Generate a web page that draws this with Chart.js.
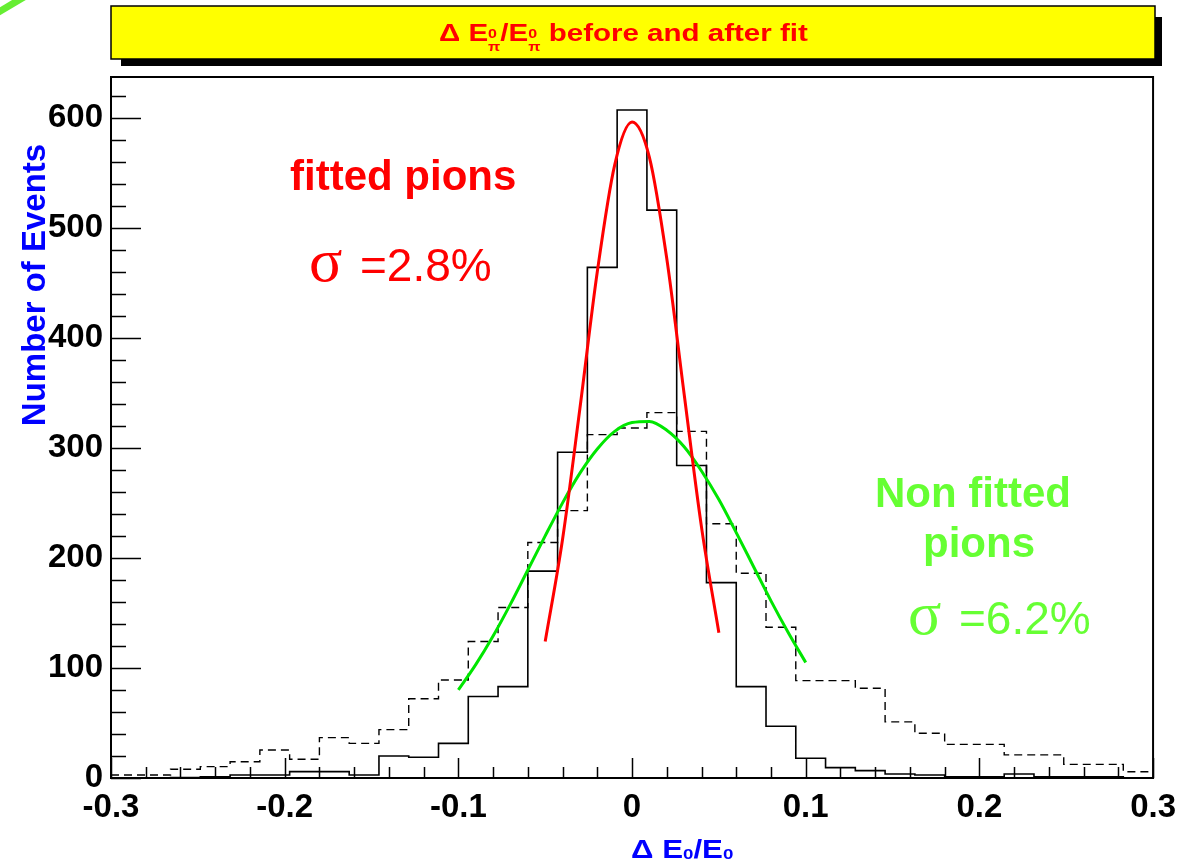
<!DOCTYPE html>
<html>
<head>
<meta charset="utf-8">
<script src="https://cdn.jsdelivr.net/npm/chart.js@4.4.1/dist/chart.umd.min.js"></script>
<style>
  body { margin: 0; background: #fff; }
  #wrap { width: 1186px; height: 861px; position: relative; }
</style>
</head>
<body>
<div id="wrap"><canvas id="chart"></canvas></div>
<script>
// histogram binning (35 bins from -0.3 to 0.3)
const nBins = 35;
const xLow = -0.3;
const xHigh = 0.3;

// solid: after fit
const fittedCounts = [0, 0, 0.5, 1, 2.7, 2.7, 5.8, 5.8, 2.7, 20, 18.8, 31.5, 74, 83,
    188, 296, 464, 607, 516, 284, 177.5, 83, 47, 18, 9.4, 6.7, 3.6, 2.7, 1, 1, 3.6, 1, 1, 1, 0];
// dashed: before fit
const nonFittedCounts = [2.7, 2.7, 8, 10.3, 14.8, 25.5, 17, 36.7, 31.5, 44, 72, 89, 124, 155,
    214, 243, 312, 318, 332, 315, 231, 186, 137, 88.5, 88.5, 81.5, 51, 40.6, 30.6, 30.6, 21, 21, 12.4, 12.4, 5.7];

// gaussian fits
const redFitX = [-0.05, -0.04, -0.03, -0.02, -0.01, 0, 0.01, 0.02, 0.03, 0.04, 0.05];
const redFitY = [124, 217, 336, 460, 557, 596, 564, 472, 349, 228, 132];
const greenFitX = [-0.1, -0.09, -0.08, -0.07, -0.06, -0.05, -0.04, -0.03, -0.02, -0.01, 0,
    0.01, 0.02, 0.03, 0.04, 0.05, 0.06, 0.07, 0.08, 0.09, 0.1];
const greenFitY = [80, 103, 129, 158, 189, 220, 250, 277, 299, 315, 323,
    324, 316, 301, 279, 253, 223, 192, 161, 132, 105];

const xTicks = [-0.3, -0.2, -0.1, 0, 0.1, 0.2, 0.3];
const xTickLabels = ["-0.3", "-0.2", "-0.1", "0", "0.1", "0.2", "0.3"];
const yTicks = [0, 100, 200, 300, 400, 500, 600];
const yMax = 637;

const FONT = "'Liberation Sans', Arial, sans-serif";

function histPoints(counts) {
    const w = (xHigh - xLow) / nBins;
    const pts = counts.map((c, i) => ({ x: xLow + i * w, y: c }));
    pts.push({ x: xHigh, y: counts[counts.length - 1] });
    return pts;
}

function xyPoints(xs, ys) {
    return xs.map((x, i) => ({ x: x, y: ys[i] }));
}

// draw a run of text pieces, stretched horizontally by sx
function drawRich(ctx, pieces, x, y, sx, color) {
    ctx.save();
    ctx.translate(x, y);
    ctx.scale(sx, 1);
    ctx.fillStyle = color;
    ctx.textBaseline = "alphabetic";
    ctx.textAlign = "left";
    let cx = 0;
    pieces.forEach(p => {
        if (p.stack) {
            let w = 0;
            p.stack.forEach(s => {
                ctx.font = s.font;
                ctx.fillText(s.t, cx, s.dy);
                w = Math.max(w, ctx.measureText(s.t).width);
            });
            cx += w;
        } else {
            ctx.font = p.font;
            ctx.fillText(p.t, cx, p.dy || 0);
            cx += ctx.measureText(p.t).width;
        }
    });
    ctx.restore();
}

const decor = {
    id: "decor",
    beforeDraw(chart) {
        const ctx = chart.ctx;
        // green corner mark
        ctx.save();
        ctx.strokeStyle = "#66ee33";
        ctx.lineWidth = 7;
        ctx.beginPath();
        ctx.moveTo(-3, 13);
        ctx.lineTo(24, -3);
        ctx.stroke();

        // title box with shadow
        ctx.fillStyle = "#000";
        ctx.fillRect(121, 17, 1041, 49);
        ctx.fillStyle = "#ffff00";
        ctx.fillRect(111, 6, 1044, 53);
        ctx.strokeStyle = "#000";
        ctx.lineWidth = 1.5;
        ctx.strokeRect(111, 6, 1044, 53);
        ctx.restore();

        const big = "bold 24px " + FONT;
        const sub = "bold 13px " + FONT;
        const piSub = { stack: [{ t: "π", font: sub, dy: 10 }, { t: "0", font: sub, dy: -3 }] };
        drawRich(ctx, [
            { t: "Δ E", font: big }, piSub,
            { t: "/E", font: big }, piSub,
            { t: " before and after fit", font: big }
        ], 439, 41, 1.23, "#ff0000");
    },
    afterDraw(chart) {
        const ctx = chart.ctx;
        const a = chart.chartArea;
        const xs = chart.scales.x, ys = chart.scales.y;
        ctx.save();
        ctx.strokeStyle = "#000";
        ctx.lineWidth = 1.5;
        ctx.beginPath();
        // y ticks (major every 100, minor every 20)
        for (let v = 0; v <= yMax; v += 20) {
            const py = Math.round(ys.getPixelForValue(v)) + 0.5;
            const len = v % 100 === 0 ? 30 : 15;
            ctx.moveTo(a.left, py);
            ctx.lineTo(a.left + len, py);
        }
        // x ticks (major every 0.1, minor every 0.02)
        for (let i = 0; i <= 30; i++) {
            const v = xLow + i * 0.02;
            const px = Math.round(xs.getPixelForValue(v)) + 0.5;
            const len = i % 5 === 0 ? 20 : 11;
            ctx.moveTo(px, a.bottom);
            ctx.lineTo(px, a.bottom - len);
        }
        ctx.stroke();

        // frame
        ctx.lineWidth = 2;
        ctx.strokeRect(a.left, a.top, a.right - a.left, a.bottom - a.top);

        // y axis title
        ctx.save();
        ctx.translate(45, 285);
        ctx.rotate(-Math.PI / 2);
        ctx.fillStyle = "#0000ff";
        ctx.font = "bold 33px " + FONT;
        ctx.textAlign = "center";
        ctx.textBaseline = "alphabetic";
        ctx.fillText("Number of Events", 0, 0);
        ctx.restore();

        // x axis title
        const xb = "bold 25px " + FONT;
        const xsub = "bold 15px " + FONT;
        drawRich(ctx, [
            { t: "Δ E", font: xb }, { t: "0", font: xsub, dy: 1 },
            { t: "/E", font: xb }, { t: "0", font: xsub, dy: 1 }
        ], 631, 858, 1.25, "#0000ff");

        // annotations
        ctx.textAlign = "left";
        ctx.textBaseline = "alphabetic";
        ctx.fillStyle = "#ff0000";
        ctx.font = "bold 42px " + FONT;
        ctx.fillText("fitted pions", 290, 190);
        ctx.font = "62px 'Liberation Serif', serif";
        ctx.fillText("σ", 309, 281);
        ctx.font = "46px " + FONT;
        ctx.fillText("=2.8%", 360, 281);

        ctx.fillStyle = "#66ff33";
        ctx.font = "bold 42px " + FONT;
        ctx.fillText("Non fitted", 875, 507);
        ctx.fillText("pions", 923, 557);
        ctx.font = "62px 'Liberation Serif', serif";
        ctx.fillText("σ", 908, 634);
        ctx.font = "46px " + FONT;
        ctx.fillText("=6.2%", 959, 634);
        ctx.restore();
    }
};

const ctx = document.getElementById("chart");

const chart = new Chart(ctx, {
    type: "line",
    data: {
        datasets: [
            {
                label: "fit fitted",
                data: xyPoints(redFitX, redFitY),
                borderColor: "#ff0000",
                borderWidth: 3,
                pointRadius: 0,
                cubicInterpolationMode: "monotone"
            },
            {
                label: "fit non fitted",
                data: xyPoints(greenFitX, greenFitY),
                borderColor: "#00e600",
                borderWidth: 3,
                pointRadius: 0,
                cubicInterpolationMode: "monotone"
            },
            {
                label: "fitted",
                data: histPoints(fittedCounts),
                borderColor: "#000",
                borderWidth: 1.6,
                pointRadius: 0,
                stepped: "before"
            },
            {
                label: "non fitted",
                data: histPoints(nonFittedCounts),
                borderColor: "#000",
                borderWidth: 1.4,
                borderDash: [8, 5],
                pointRadius: 0,
                stepped: "before"
            }
        ]
    },
    options: {
        responsive: true,
        maintainAspectRatio: false,
        animation: false,
        layout: {
            padding: { top: 77, right: 29, left: 0, bottom: 0 }
        },
        plugins: {
            legend: { display: false },
            tooltip: { enabled: false }
        },
        scales: {
            x: {
                type: "linear",
                min: xLow,
                max: xHigh,
                grid: { display: false, drawTicks: false },
                border: { display: false },
                afterBuildTicks: (s) => { s.ticks = xTicks.map(v => ({ value: v })); },
                afterFit: (s) => { s.height = 83; },
                ticks: {
                    color: "#000",
                    padding: 10,
                    maxRotation: 0,
                    font: { family: FONT, size: 33, weight: "bold" },
                    callback: (v) => xTickLabels[xTicks.findIndex(t => Math.abs(t - v) < 1e-9)]
                }
            },
            y: {
                min: 0,
                max: yMax,
                grid: { display: false, drawTicks: false },
                border: { display: false },
                afterBuildTicks: (s) => { s.ticks = yTicks.map(v => ({ value: v })); },
                afterFit: (s) => { s.width = 111; },
                ticks: {
                    color: "#000",
                    padding: 8,
                    font: { family: FONT, size: 33, weight: "bold" }
                }
            }
        }
    },
    plugins: [decor]
});
</script>
</body>
</html>
